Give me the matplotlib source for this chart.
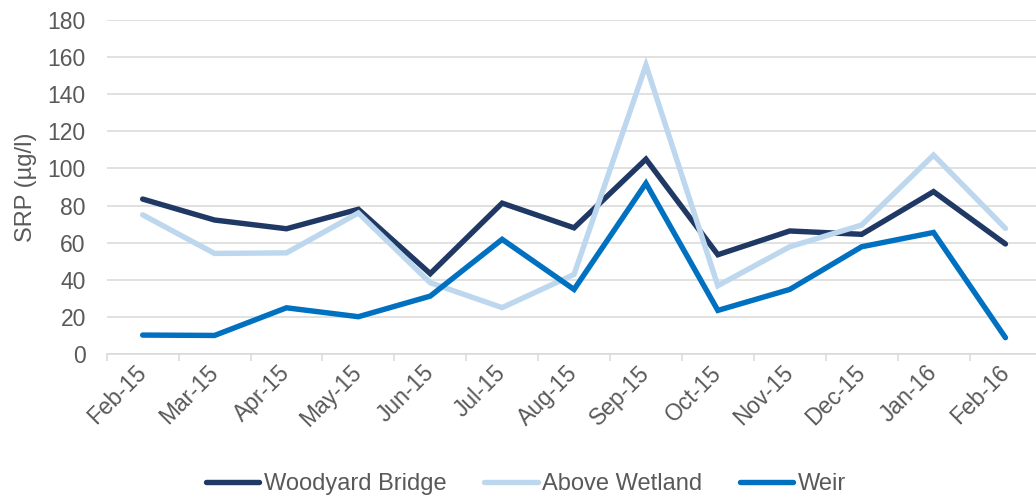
import matplotlib.pyplot as plt

plt.rcParams["font.family"] = ["Liberation Sans", "DejaVu Sans"]

months = ["Feb-15", "Mar-15", "Apr-15", "May-15", "Jun-15", "Jul-15", "Aug-15",
          "Sep-15", "Oct-15", "Nov-15", "Dec-15", "Jan-16", "Feb-16"]
woodyard_bridge = [83.5, 72.2, 67.5, 78.0, 43.3, 81.3, 68.0, 105.0, 53.5, 66.3, 64.5, 87.5, 59.3]
above_wetland = [75.0, 54.2, 54.5, 76.0, 38.4, 25.0, 42.9, 155.7, 36.8, 57.8, 69.5, 107.2, 67.7]
weir = [10.2, 10.0, 24.9, 20.1, 31.2, 61.8, 34.8, 92.0, 23.5, 34.8, 57.8, 65.5, 8.8]

text_color = "#595959"
grid_color = "#D9D9D9"
font_size = 17

fig = plt.figure(figsize=(10.36, 4.99), dpi=100)
# axes run slightly past the right edge, so the last category is clipped
ax = fig.add_axes([106.7 / 1036, 145 / 499, 934.7 / 1036, 334 / 499])

x = list(range(len(months)))
series = [
    ("Woodyard Bridge", woodyard_bridge, "#1F3864"),
    ("Above Wetland", above_wetland, "#BDD7EE"),
    ("Weir", weir, "#0070C0"),
]
for name, values, color in series:
    ax.plot(x, values, color=color, linewidth=3.9, label=name,
            solid_capstyle="round", solid_joinstyle="miter", zorder=3)

ax.set_xlim(-0.5, len(months) - 0.5)
ax.set_ylim(0, 180)
ax.set_yticks(range(0, 181, 20))
ax.grid(axis="y", color=grid_color, linewidth=1.1, zorder=0)
ax.set_axisbelow(True)

for side in ["left", "right", "top"]:
    ax.spines[side].set_visible(False)
ax.spines["bottom"].set_color(grid_color)
ax.spines["bottom"].set_linewidth(1.1)

ax.set_xticks(x)
ax.set_xticklabels(months)
ax.set_xticks([i - 0.5 for i in range(len(months) + 1)], minor=True)
ax.tick_params(axis="x", which="major", length=0, pad=11, labelsize=font_size - 0.5,
               labelcolor=text_color)
ax.tick_params(axis="x", which="minor", length=5.2, width=1.1, color=grid_color)
ax.tick_params(axis="y", length=0, pad=15, labelsize=font_size - 0.5, labelcolor=text_color)
plt.setp(ax.get_xticklabels(), rotation=45, ha="right", va="center", rotation_mode="anchor")

ax.set_ylabel("SRP (µg/l)", fontsize=font_size, color=text_color)
ax.yaxis.set_label_coords(-0.075, 0.5)

fig.legend(loc="center", bbox_to_anchor=(0.508, 15 / 499), ncol=3, frameon=False,
           fontsize=font_size, labelcolor=text_color, handlelength=2.25, handletextpad=0.2,
           columnspacing=1.6)

fig.savefig("out.png", dpi=100)
